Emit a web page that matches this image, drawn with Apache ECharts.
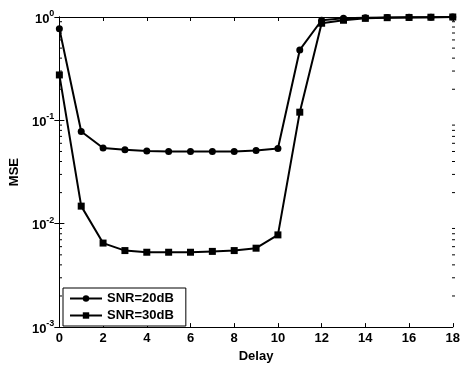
<!DOCTYPE html>
<html>
<head>
<meta charset="utf-8">
<script src="https://cdn.jsdelivr.net/npm/echarts@6/dist/echarts.min.js"></script>
<style>
  html, body { margin: 0; padding: 0; background: #fff; }
  #chart { width: 463px; height: 368px; }
</style>
</head>
<body>
<div id="chart"></div>
<script>
// delays 0..18
const delays = [0, 1, 2, 3, 4, 5, 6, 7, 8, 9, 10, 11, 12, 13, 14, 15, 16, 17, 18]
const snr20 = [0.77, 0.078, 0.054, 0.052, 0.0505, 0.050, 0.050, 0.050, 0.050, 0.051, 0.0535,
  0.48, 0.93, 0.97, 0.985, 0.99, 0.995, 0.995, 1.0]
const snr30 = [0.275, 0.0148, 0.0065, 0.0055, 0.0053, 0.0053, 0.0053, 0.0054, 0.0055, 0.0058, 0.0078,
  0.12, 0.87, 0.93, 0.97, 0.985, 0.99, 0.995, 1.0]
const seriesNames = ['SNR=20dB', 'SNR=30dB']

const font = 'Liberation Sans'
const chart = echarts.init(document.getElementById('chart'))

const yLabel = (v) => {
  const e = Math.round(Math.log10(v))
  return '{b|10}{s|' + e + '}'
}

const line = (name, data, symbol, size) => ({
  name,
  type: 'line',
  data: delays.map((d, i) => [d, data[i]]),
  symbol,
  symbolSize: size,
  lineStyle: { color: '#000', width: 2 },
  itemStyle: { color: '#000' },
  animation: false,
})

chart.setOption({
  animation: false,
  textStyle: { fontFamily: font },
  grid: { left: 59, right: 8, top: 17, bottom: 36 },
  legend: {
    left: 63,
    top: 288,
    orient: 'vertical',
    backgroundColor: '#fff',
    borderColor: '#000',
    borderWidth: 1,
    borderRadius: 0,
    padding: [4, 12, 4, 6],
    itemGap: 4,
    itemWidth: 32,
    itemHeight: 8,
    textStyle: { fontFamily: font, fontSize: 13, fontWeight: 'bold', color: '#000' },
    data: seriesNames,
  },
  xAxis: [
    {
      type: 'value', min: 0, max: 18, interval: 2,
      name: 'Delay', nameLocation: 'middle', nameGap: 17,
      nameTextStyle: { fontFamily: font, fontSize: 13, fontWeight: 'bold', color: '#000' },
      axisLine: { lineStyle: { color: '#000', width: 1 } },
      axisTick: { inside: true, length: 4, lineStyle: { color: '#000' } },
      axisLabel: { fontSize: 13, fontWeight: 'bold', color: '#000', margin: 5 },
      splitLine: { show: false },
    },
    {
      type: 'value', min: 0, max: 18, interval: 2, position: 'top',
      axisLine: { lineStyle: { color: '#000', width: 1 } },
      axisTick: { inside: true, length: 4, lineStyle: { color: '#000' } },
      axisLabel: { show: false },
      splitLine: { show: false },
    },
  ],
  yAxis: [
    {
      type: 'log', logBase: 10, min: 0.001, max: 1,
      name: 'MSE', nameLocation: 'middle', nameGap: 37, nameRotate: 90,
      nameTextStyle: { fontFamily: font, fontSize: 13, fontWeight: 'bold', color: '#000' },
      axisLine: { lineStyle: { color: '#000', width: 1 } },
      axisTick: { inside: true, length: 5, lineStyle: { color: '#000' } },
      axisLabel: {
        formatter: yLabel, margin: 5, color: '#000',
        rich: {
          b: { fontFamily: font, fontSize: 13, fontWeight: 'bold', color: '#000', lineHeight: 16, padding: [4, 0, 0, 0] },
          s: { fontFamily: font, fontSize: 9, fontWeight: 'bold', color: '#000', lineHeight: 16, verticalAlign: 'top' },
        },
      },
      splitLine: { show: false },
    },
    {
      type: 'log', logBase: 10, min: 0.001, max: 1, position: 'right',
      axisLine: { lineStyle: { color: '#000', width: 1 } },
      axisTick: { inside: true, length: 5, lineStyle: { color: '#000' } },
      axisLabel: { show: false },
      splitLine: { show: false },
    },
  ],
  series: [
    line(seriesNames[0], snr20, 'circle', 7),
    line(seriesNames[1], snr30, 'rect', 7),
  ],
})

// log minor ticks (2..9 per decade), placed through the y axis scale
const minor = []
const gridRect = { left: 59, right: 463 - 8 }
for (let e = -3; e < 0; e++) {
  for (let m = 2; m <= 9; m++) {
    const y = chart.convertToPixel({ yAxisIndex: 0 }, m * Math.pow(10, e))
    minor.push({ type: 'line', shape: { x1: gridRect.left, y1: y, x2: gridRect.left + 3, y2: y }, style: { stroke: '#000', lineWidth: 1 } })
    minor.push({ type: 'line', shape: { x1: gridRect.right - 3, y1: y, x2: gridRect.right, y2: y }, style: { stroke: '#000', lineWidth: 1 } })
  }
}
chart.setOption({ graphic: minor })
</script>
</body>
</html>
